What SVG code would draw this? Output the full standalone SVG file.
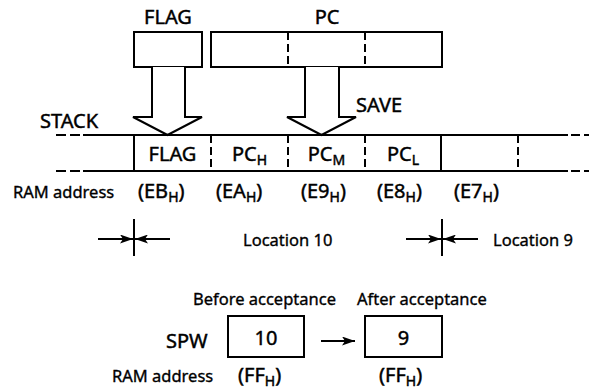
<svg xmlns="http://www.w3.org/2000/svg" width="589" height="389" viewBox="0 0 589 389">
<defs>
<style>
text{font-family:"Noto Sans","Open Sans","DejaVu Sans",sans-serif;fill:#000;stroke:#000;stroke-width:0.35}
.big{font-size:20px;stroke-width:0.45}
.sm{font-size:16.5px}
.sub{font-size:14px}
.ln{stroke:#000;stroke-width:2;fill:none}
.dash{stroke:#000;stroke-width:2;fill:none;stroke-dasharray:8 4}
.box{stroke:#000;stroke-width:2;fill:#fff}
</style>
<marker id="ah" viewBox="0 0 13 9" refX="13" refY="4.5" markerWidth="13" markerHeight="9" markerUnits="userSpaceOnUse" orient="auto">
<path d="M0,0 L13,4.5 L0,9 L3,4.5 Z" fill="#000"/>
</marker>
</defs>
<rect width="589" height="389" fill="#fff"/>

<g id="flag-register">
<text class="big" x="168" y="24" text-anchor="middle">FLAG</text>
<rect class="box" x="134" y="32" width="68" height="35"/>
</g>

<g id="pc-register">
<text class="big" x="327" y="24" text-anchor="middle">PC</text>
<rect class="box" x="211" y="32" width="231" height="35"/>
<line class="dash" x1="288" y1="32" x2="288" y2="67"/>
<line class="dash" x1="365" y1="32" x2="365" y2="67"/>
</g>

<g id="stack">
<text class="big" x="40" y="128">STACK</text>
<line class="ln" x1="83" y1="135" x2="568" y2="135"/>
<line class="ln" x1="83" y1="171" x2="568" y2="171"/>
<path class="ln" d="M56,135 H66 M70,135 H80 M56,171 H66 M70,171 H80"/>
<path class="ln" d="M571,135 H580 M584,135 H589 M571,171 H580 M584,171 H589"/>
<line class="ln" x1="134" y1="135" x2="134" y2="171"/>
<line class="dash" x1="211" y1="135" x2="211" y2="171"/>
<line class="dash" x1="288" y1="135" x2="288" y2="171"/>
<line class="dash" x1="365" y1="135" x2="365" y2="171"/>
<line class="ln" x1="441" y1="135" x2="441" y2="171"/>
<line class="dash" x1="518" y1="135" x2="518" y2="171"/>
<text class="big" x="172.5" y="161" text-anchor="middle">FLAG</text>
<text class="big" x="249.5" y="161" text-anchor="middle">PC<tspan class="sub" dy="4">H</tspan></text>
<text class="big" x="326.5" y="161" text-anchor="middle">PC<tspan class="sub" dy="4">M</tspan></text>
<text class="big" x="403" y="161" text-anchor="middle">PC<tspan class="sub" dy="4">L</tspan></text>
</g>

<g id="connectors">
<path class="box" d="M152,67 V117 H133 L167.5,135 L202,117 H185 V67"/>
<path class="box" d="M305,67 V117 H287 L321.5,135 L356,117 H339 V67"/>
<line class="ln" x1="98" y1="239" x2="133" y2="239" marker-end="url(#ah)"/>
<line class="ln" x1="170" y1="239" x2="135" y2="239" marker-end="url(#ah)"/>
<line class="ln" x1="406" y1="239" x2="441" y2="239" marker-end="url(#ah)"/>
<line class="ln" x1="478" y1="239" x2="443" y2="239" marker-end="url(#ah)"/>
<line class="ln" x1="321" y1="341" x2="355" y2="341" marker-end="url(#ah)"/>
</g>

<text class="big" x="356" y="112">SAVE</text>

<g id="ram-addresses">
<text class="sm" x="13" y="198">RAM address</text>
<text class="big" x="138" y="198">(EB<tspan class="sub" dy="4">H</tspan><tspan dy="-4">)</tspan></text>
<text class="big" x="216" y="198">(EA<tspan class="sub" dy="4">H</tspan><tspan dy="-4">)</tspan></text>
<text class="big" x="301" y="198">(E9<tspan class="sub" dy="4">H</tspan><tspan dy="-4">)</tspan></text>
<text class="big" x="377" y="198">(E8<tspan class="sub" dy="4">H</tspan><tspan dy="-4">)</tspan></text>
<text class="big" x="454" y="198">(E7<tspan class="sub" dy="4">H</tspan><tspan dy="-4">)</tspan></text>
</g>

<g id="locations">
<line class="ln" x1="134" y1="219" x2="134" y2="256"/>
<line class="ln" x1="442" y1="219" x2="442" y2="256"/>
<text class="sm" x="243" y="246">Location 10</text>
<text class="sm" x="493" y="246">Location 9</text>
</g>

<g id="spw">
<text class="sm" x="193" y="305">Before acceptance</text>
<text class="sm" x="357" y="305">After acceptance</text>
<text class="big" x="166" y="348">SPW</text>
<rect class="box" x="228" y="316" width="76" height="41"/>
<text class="big" x="266" y="345" text-anchor="middle">10</text>
<rect class="box" x="365" y="316" width="77" height="41"/>
<text class="big" x="403.5" y="345" text-anchor="middle">9</text>
<text class="sm" x="112" y="382">RAM address</text>
<text class="big" x="238" y="382">(FF<tspan class="sub" dy="4">H</tspan><tspan dy="-4">)</tspan></text>
<text class="big" x="379" y="382">(FF<tspan class="sub" dy="4">H</tspan><tspan dy="-4">)</tspan></text>
</g>
</svg>
